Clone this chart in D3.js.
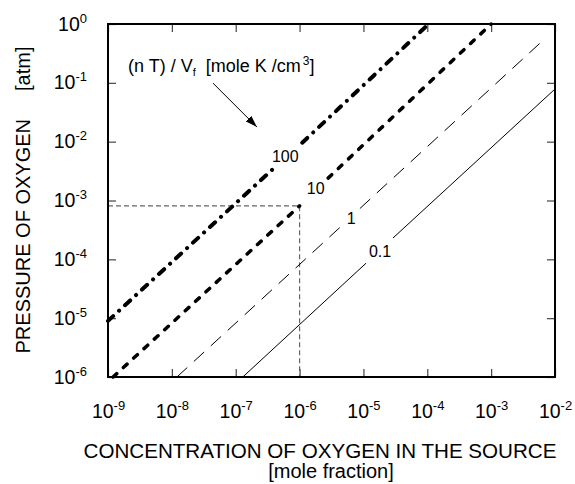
<!DOCTYPE html>
<html>
<head>
<meta charset="utf-8">
<script src="https://cdn.jsdelivr.net/npm/d3@7"></script>
<style>
    html, body { margin: 0; padding: 0; background: #fff; }
    svg { display: block; }
</style>
</head>
<body>
<svg id="chart"></svg>
<script>
/* global d3 */
// axis ticks (decades)
const xTicks = [1e-9, 1e-8, 1e-7, 1e-6, 1e-5, 1e-4, 1e-3, 1e-2];
const yTicks = [1e0, 1e-1, 1e-2, 1e-3, 1e-4, 1e-5, 1e-6];

// curves of constant (n T) / Vf, each split in two pieces around its label
const curveNames = ["100", "10", "1", "0.1"];
const curveSegments = [
    [[[1e-9, 9.0e-6], [3.8e-7, 3.4e-3]], [[1.1e-6, 9.6e-3], [1.05e-4, 1]]],
    [[[1.2e-9, 1e-6], [1e-6, 8.1e-4]], [[2.8e-6, 2.4e-3], [1.0e-3, 1]]],
    [[[1.2e-8, 1e-6], [4.3e-6, 3.5e-4]], [[8.8e-6, 7.3e-4], [6.9e-3, 0.56]]],
    [[[1.29e-7, 1e-6], [1.1e-5, 8.6e-5]], [[2.9e-5, 2.3e-4], [1e-2, 0.0785]]]
];
const curveLabelAt = [[3.69e-7, 4.5e-3], [1.3e-6, 1.3e-3], [5.5e-6, 4.0e-4], [1.22e-5, 1.1e-4]];

const guidePoint = [1e-6, 8.1e-4];

// annotation text and arrow
const noteAt = [2.06e-9, 0.153];
const arrowFrom = [4.4e-8, 0.099];
const arrowTo = [2.15e-7, 0.0177];

const width = 575,
    height = 484,
    margin = {top: 24, right: 20, bottom: 107, left: 108},
    w = width - margin.left - margin.right,
    h = height - margin.top - margin.bottom,
    font = "Liberation Sans, Arial, Helvetica, sans-serif";

const curveStyle = [
    {width: 4, dash: "7,8,0.1,8", cap: "round"},
    {width: 3.5, dash: "5,9", cap: "round"},
    {width: 1, dash: "14,9", cap: "butt"},
    {width: 1, dash: null, cap: "butt"}
];

const x = d3.scaleLog().domain([1e-9, 1e-2]).range([0, w]),
    y = d3.scaleLog().domain([1e-6, 1]).range([h, 0]),
    line = d3.line().x(d => x(d[0])).y(d => y(d[1]));

const svg = d3.select("#chart")
    .attr("width", width)
    .attr("height", height)
    .attr("font-family", font);

svg.append("defs").append("marker")
    .attr("id", "head")
    .attr("viewBox", "0 0 12 8")
    .attr("refX", 12)
    .attr("refY", 4)
    .attr("markerWidth", 12)
    .attr("markerHeight", 8)
    .attr("markerUnits", "userSpaceOnUse")
    .attr("orient", "auto")
    .append("path")
    .attr("d", "M0,0L12,4L0,8Z")
    .attr("fill", "#000");

const g = svg.append("g")
    .attr("transform", "translate(" + margin.left + "," + margin.top + ")");

function expLabel(sel, size) {
    sel.each(function (d) {
        const t = d3.select(this).text(null)
            .attr("font-family", font)
            .attr("font-size", size)
            .attr("fill", "#000");
        t.append("tspan").text("10");
        t.append("tspan")
            .attr("font-size", 13)
            .attr("dy", -8)
            .text(Math.round(Math.log10(d)));
    });
}

// axes: inward ticks on all four sides
const bottom = g.append("g")
    .attr("transform", "translate(0," + h + ")")
    .call(d3.axisBottom(x).tickValues(xTicks).tickSizeInner(-8).tickSizeOuter(0).tickPadding(41));
bottom.selectAll(".tick text").attr("dy", null).call(expLabel, 19.5);

const left = g.append("g")
    .call(d3.axisLeft(y).tickValues(yTicks).tickSizeInner(-8).tickSizeOuter(0).tickPadding(21));
left.selectAll(".tick text").attr("dy", 6).call(expLabel, 19.5);

g.append("g")
    .call(d3.axisTop(x).tickValues(xTicks).tickSizeInner(-8).tickSizeOuter(0).tickFormat(""));
g.append("g")
    .attr("transform", "translate(" + w + ",0)")
    .call(d3.axisRight(y).tickValues(yTicks).tickSizeInner(-8).tickSizeOuter(0).tickFormat(""));

g.selectAll(".domain").remove();
g.selectAll(".tick line").attr("stroke", "#444").attr("stroke-width", 1.2);

// guide to the example point
g.append("path")
    .attr("d", line([[x.domain()[0], guidePoint[1]], guidePoint, [guidePoint[0], y.domain()[0]]]))
    .attr("fill", "none")
    .attr("stroke", "#666")
    .attr("stroke-width", 1.2)
    .attr("stroke-dasharray", "5,3");

// curves
curveSegments.forEach((segs, i) => {
    const st = curveStyle[i];
    g.selectAll(null)
        .data(segs)
        .enter().append("path")
        .attr("d", line)
        .attr("fill", "none")
        .attr("stroke", "#000")
        .attr("stroke-width", st.width)
        .attr("stroke-linecap", st.cap)
        .attr("stroke-dasharray", st.dash);
});

g.selectAll(".curve-label")
    .data(curveLabelAt)
    .enter().append("text")
    .attr("class", "curve-label")
    .attr("x", d => x(d[0]))
    .attr("y", d => y(d[1]))
    .attr("font-size", 16)
    .text((d, i) => curveNames[i]);

// frame
g.append("rect")
    .attr("width", w)
    .attr("height", h)
    .attr("fill", "none")
    .attr("stroke", "#000")
    .attr("stroke-width", 2);

// annotation
const note = g.append("text")
    .attr("x", x(noteAt[0]))
    .attr("y", y(noteAt[1]))
    .attr("font-size", 18);
note.append("tspan").text("(n T) / V");
note.append("tspan").attr("font-size", 11).attr("dy", 4).text("f");
note.append("tspan").attr("dy", -4).attr("dx", 10).text("[mole K /cm");
note.append("tspan").attr("font-size", 12).attr("dy", -7).attr("dx", 2).text("3");
note.append("tspan").attr("dy", 7).text("]");

g.append("path")
    .attr("d", line([arrowFrom, arrowTo]))
    .attr("stroke", "#000")
    .attr("stroke-width", 1)
    .attr("marker-end", "url(#head)");

// axis titles
svg.append("text")
    .attr("x", 320)
    .attr("y", 458)
    .attr("text-anchor", "middle")
    .attr("font-size", 20.6)
    .text("CONCENTRATION OF OXYGEN IN THE SOURCE");
svg.append("text")
    .attr("x", 331)
    .attr("y", 478)
    .attr("text-anchor", "middle")
    .attr("font-size", 20)
    .text("[mole fraction]");

const yTitle = svg.append("text")
    .attr("transform", "translate(30,200) rotate(-90)")
    .attr("text-anchor", "middle")
    .attr("font-size", 20);
yTitle.append("tspan").text("PRESSURE OF OXYGEN");
yTitle.append("tspan").attr("dx", 28).text("[atm]");
</script>
</body>
</html>
